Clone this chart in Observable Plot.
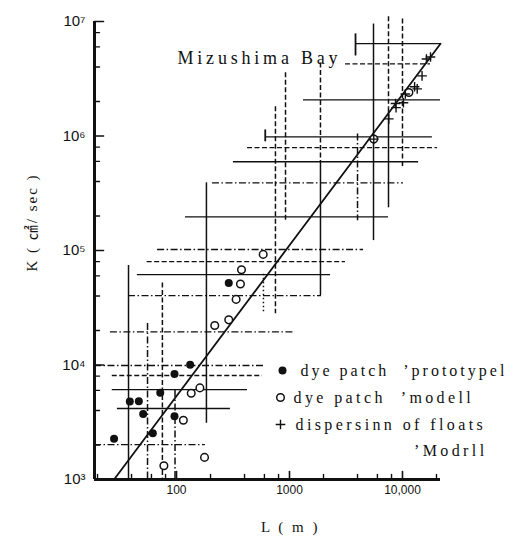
<!DOCTYPE html>
<html>
<head>
<meta charset="utf-8">
<script src="https://cdn.jsdelivr.net/npm/d3@7"></script>
<script src="https://cdn.jsdelivr.net/npm/@observablehq/plot@0.6"></script>
<style>
  body { margin: 0; background: #fff; }
  #chart { width: 522px; height: 539px; }
</style>
</head>
<body>
<div id="chart"></div>
<script>
// Diffusion coefficient K (cm²/sec) against scale L (m), Mizushima Bay

// dye patch (prototype)
const dyeProtoL = [28, 38.6, 46.4, 50.7, 61.7, 71.8, 96, 96, 132, 290];
const dyeProtoK = [2270, 4800, 4820, 3740, 2530, 5710, 8360, 3570, 10070, 52000];

// dye patch (model)
const dyeModelL = [585, 376, 368, 337, 290, 218, 161, 135, 115, 177, 77.3, 5570, 11400];
const dyeModelK = [92500, 67900, 51000, 37400, 24800, 22100, 6310, 5660, 3290, 1560, 1320, 940000, 2400000];

// dispersion of floats (model)
const floatL = [16300, 17700, 14900, 12800, 13500, 10600, 8680, 10200, 8770, 7570, 5570];
const floatK = [4.7e6, 4.9e6, 3.35e6, 2.69e6, 2.58e6, 2.33e6, 1.92e6, 1.95e6, 1.77e6, 1.41e6, 9.4e5];

// 4/3-power law line
const lawL = [28, 21700];
const lawK = [1000, 6.4e6];

// range bars: horizontal (K level, L from, L to, line style)
const hK     = [6.4e6, 4.27e6, 2.07e6, 9.84e5, 7.9e5, 5.96e5, 3.9e5, 1.97e5, 1.02e5, 7.98e4, 6.15e4, 4.04e4, 1.95e4, 9.9e3, 8.1e3, 6.1e3, 4.17e3, 2.02e3];
const hL1    = [3840, 3130, 1330, 614, 425, 319, 208, 120, 68, 55, 45, 37.6, 26, 18.8, 27, 27, 30, 18.8];
const hL2    = [21700, 17700, 21700, 18400, 20400, 13900, 10200, 7520, 4520, 3130, 2310, 1920, 1130, 614, 577, 425, 300, 180];
const hStyle = ["solid", "dash", "solid", "solid", "dash", "solid", "dashdot", "solid", "dashdot", "dash", "solid", "dashdot", "dashdot", "dashdot", "dash", "solid", "solid", "dashdot"];

// range bars: vertical (L position, K from, K to, line style)
const vL     = [37.6, 55.4, 75, 97, 184, 751, 922, 588, 1880, 1880, 4000, 5540, 7520, 7520, 10000];
const vK1    = [7.4e4, 2.3e4, 5.2e4, 6.0e3, 3.9e5, 1.8e6, 3.56e6, 6.2e4, 4.35e6, 6.0e5, 1.04e6, 9.5e6, 1.1e7, 1.76e6, 1.05e7];
const vK2    = [1000, 1000, 1000, 1000, 3100, 2.8e4, 1.75e5, 2.8e4, 6.0e5, 4.04e4, 1.82e5, 1.22e5, 1.76e6, 2.36e5, 5.3e5];
const vStyle = ["solid", "dashdot", "dash", "dashdot", "solid", "dash", "dash", "dot", "dash", "solid", "dashdot", "solid", "dash", "solid", "dash"];

// end caps on some bars
const capL  = [3840, 610];
const capK1 = [7.8e6, 1.13e6];
const capK2 = [5.0e6, 8.9e5];

// axes
const yMajor = [1e3, 1e4, 1e5, 1e6, 1e7];
const yMinor = [2e3, 4e3, 6e3, 8e3, 2e4, 4e4, 6e4, 8e4, 2e5, 4e5, 6e5, 8e5, 2e6, 4e6, 6e6, 8e6];
const xMajor = [100, 1000, 10000];
const xMinor = [20, 40, 60, 80, 200, 400, 600, 800, 2000, 4000, 6000, 8000, 20000];
const xTickText = ["100", "1000", "10,000"];
const supDigits = {3: "³", 4: "⁴", 5: "⁵", 6: "⁶", 7: "⁷"};

const legendText = ["dye patch \u00a0’prototypel", "dye patch \u00a0’modell", "dispersinn of floats", "’Modrll"];
const titleText = "Mizushima Bay";
const yTitle = "K ( ㎠/ sec )";
const xTitle = "L ( m )";

// tables
const zip2 = (a, b, ka, kb) => a.map((v, i) => ({[ka]: v, [kb]: b[i]}));
const proto = zip2(dyeProtoL, dyeProtoK, "L", "K");
const model = zip2(dyeModelL, dyeModelK, "L", "K");
const floats = zip2(floatL, floatK, "L", "K");
const law = zip2(lawL, lawK, "L", "K");
const hSeg = hK.map((k, i) => ({K: k, L1: hL1[i], L2: hL2[i], style: hStyle[i]}));
const vSeg = vL.map((l, i) => ({L: l, K1: vK1[i], K2: vK2[i], style: vStyle[i]}));
const caps = capL.map((l, i) => ({L: l, K1: capK1[i], K2: capK2[i]}));

const dashes = {solid: undefined, dash: "5,2.5", dashdot: "7,2.5,1.5,2.5", dot: "1.5,2.5"};
const ink = "#111";

const tickShape = {draw(context, l) { context.moveTo(0, 0); context.lineTo(0, -l); }};

const serif = "'Liberation Serif', 'DejaVu Serif', serif";
const sans = "'Liberation Sans', 'DejaVu Sans', sans-serif";

const marks = [];

// range bars
for (const s of Object.keys(dashes)) {
  marks.push(Plot.ruleY(hSeg.filter(d => d.style === s), {
    y: "K", x1: "L1", x2: "L2", stroke: ink, strokeWidth: 1.3, strokeDasharray: dashes[s]
  }));
  marks.push(Plot.ruleX(vSeg.filter(d => d.style === s), {
    x: "L", y1: "K1", y2: "K2", stroke: ink, strokeWidth: 1.5, strokeDasharray: dashes[s]
  }));
}
marks.push(Plot.ruleX(caps, {x: "L", y1: "K1", y2: "K2", stroke: ink, strokeWidth: 1.8}));

// law line
marks.push(Plot.line(law, {x: "L", y: "K", stroke: ink, strokeWidth: 1.8}));

// data points
marks.push(Plot.dot(model, {x: "L", y: "K", r: 3.8, fill: "white", stroke: ink, strokeWidth: 1.5}));
marks.push(Plot.dot(proto, {x: "L", y: "K", r: 4, fill: ink}));
marks.push(Plot.dot(floats, {x: "L", y: "K", symbol: "plus", r: 3.2, stroke: ink, strokeWidth: 1.4}));

// axis lines
marks.push(Plot.ruleX([18.8], {stroke: ink, strokeWidth: 3}));
marks.push(Plot.ruleY([1e3], {stroke: ink, strokeWidth: 3}));

// inward ticks
marks.push(Plot.vector(yMinor, {y: d => d, frameAnchor: "left", rotate: 90, length: 5, anchor: "start", shape: tickShape, stroke: ink, strokeWidth: 1.4}));
marks.push(Plot.vector(yMajor.slice(1), {y: d => d, frameAnchor: "left", rotate: 90, length: 9, anchor: "start", shape: tickShape, stroke: ink, strokeWidth: 1.6}));
marks.push(Plot.vector(xMinor, {x: d => d, frameAnchor: "bottom", rotate: 0, length: 5, anchor: "start", shape: tickShape, stroke: ink, strokeWidth: 1.4}));
marks.push(Plot.vector(xMajor, {x: d => d, frameAnchor: "bottom", rotate: 0, length: 8, anchor: "start", shape: tickShape, stroke: ink, strokeWidth: 1.6}));

// tick labels
marks.push(Plot.axisY({
  ticks: yMajor, tickSize: 0, tickPadding: 9, label: null,
  tickFormat: d => "10" + supDigits[Math.round(Math.log10(d))],
  fontSize: 15, fontFamily: sans
}));
marks.push(Plot.axisX({
  ticks: xMajor, tickSize: 0, tickPadding: 6, label: null,
  tickFormat: d => xTickText[xMajor.indexOf(d)],
  fontSize: 12, fontFamily: sans
}));

// axis titles
marks.push(Plot.text([yTitle], {text: d => d, frameAnchor: "left", dx: -62, dy: -28, rotate: -90, textAnchor: "middle", lineAnchor: "middle", fontSize: 15, fontFamily: "'Liberation Serif', 'Noto Sans CJK JP', serif", fill: ink}));
marks.push(Plot.text([xTitle], {text: d => d, frameAnchor: "bottom", dx: 23, dy: 48, textAnchor: "middle", lineAnchor: "middle", fontSize: 15, fontFamily: serif, fill: ink}));

// annotation
marks.push(Plot.text([titleText], {text: d => d, frameAnchor: "top-left", dx: 83, dy: 37, textAnchor: "start", lineAnchor: "middle", fontSize: 18, fontFamily: serif, fill: ink}));

// legend
marks.push(Plot.dot([0], {frameAnchor: "top-left", dx: 188, dy: 349, r: 4, fill: ink}));
marks.push(Plot.dot([0], {frameAnchor: "top-left", dx: 186, dy: 376, r: 3.8, fill: "white", stroke: ink, strokeWidth: 1.5}));
marks.push(Plot.dot([0], {frameAnchor: "top-left", dx: 186, dy: 403, symbol: "plus", r: 3.2, stroke: ink, strokeWidth: 1.4}));
const legendPos = [[206, 349, "start"], [199, 376, "start"], [201, 403, "start"], [393, 429, "end"]];
legendText.forEach((t, i) => {
  const [dx, dy, anchor] = legendPos[i];
  marks.push(Plot.text([t], {text: d => d, frameAnchor: "top-left", dx, dy, textAnchor: anchor, lineAnchor: "middle", fontSize: 16, fontFamily: serif, fill: ink}));
});

const chart = Plot.plot({
  width: 522,
  height: 539,
  marginLeft: 94,
  marginRight: 82,
  marginTop: 21,
  marginBottom: 60,
  style: {background: "white", color: ink, fontFamily: serif},
  x: {type: "log", domain: [18.8, 21700]},
  y: {type: "log", domain: [1e3, 1e7]},
  marks
});
document.getElementById("chart").appendChild(chart);

// widen the typewritten lettering
const spacing = new Map([[titleText, "3.8px"], [yTitle, "2px"], [xTitle, "2.5px"]]);
legendText.forEach((t, i) => spacing.set(t, i === 0 ? "3px" : "3.4px"));
d3.select(chart).selectAll("text").each(function () {
  const s = spacing.get(this.textContent);
  if (s) this.style.letterSpacing = s;
});
</script>
</body>
</html>
